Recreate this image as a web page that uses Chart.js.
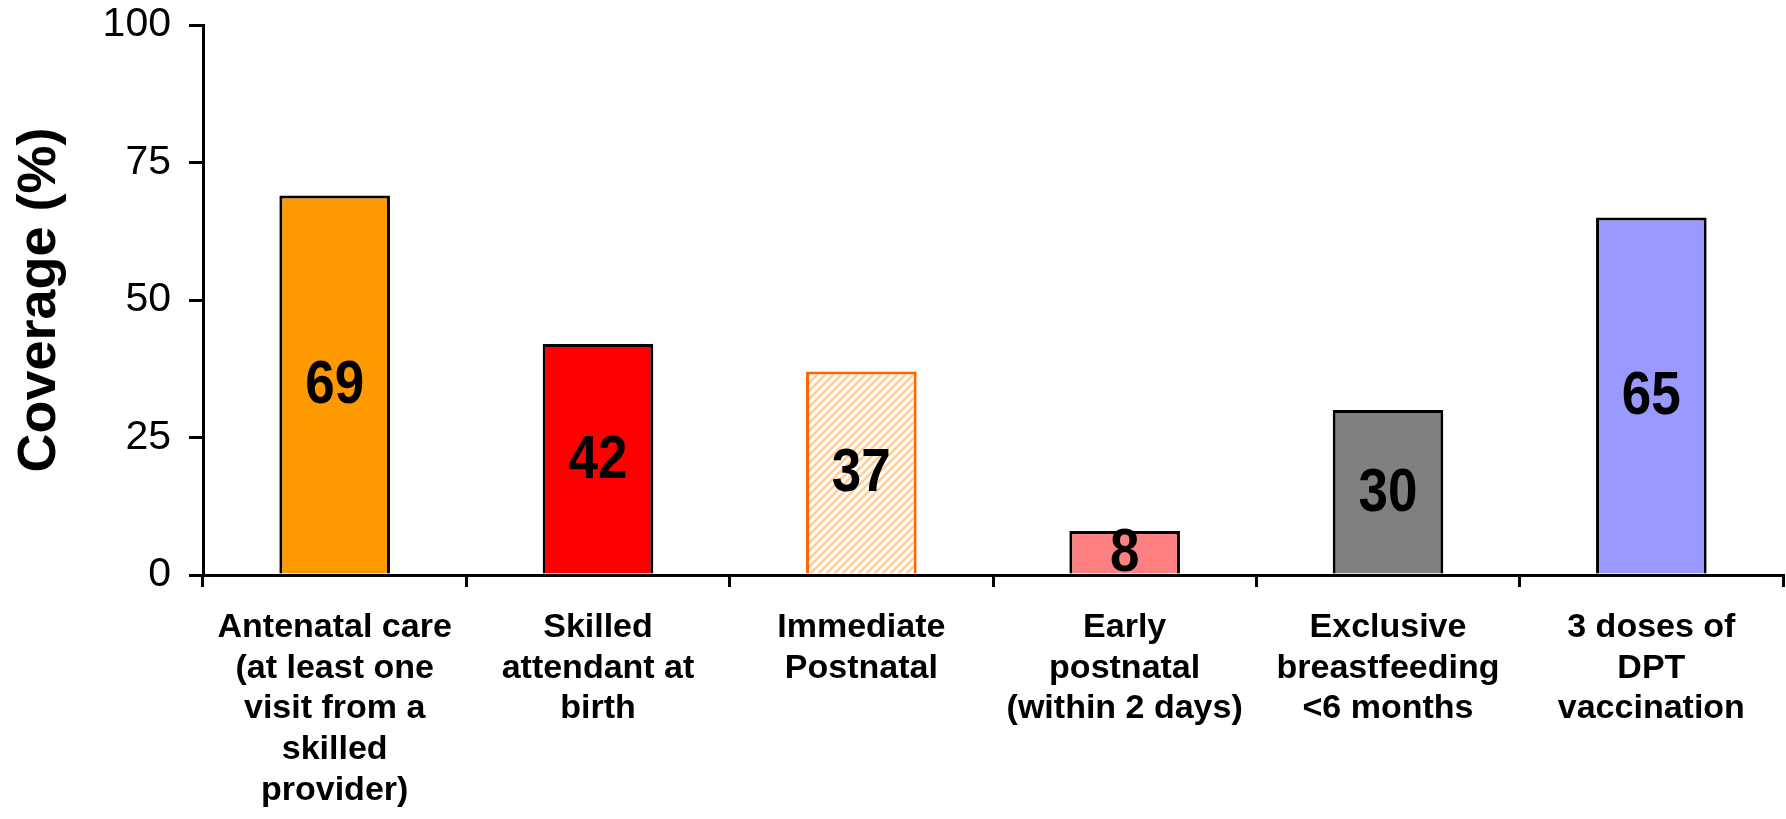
<!DOCTYPE html>
<html>
<head>
    <meta charset="utf-8" />
    <title>Coverage</title>
    <script src="https://cdn.jsdelivr.net/npm/chart.js"></script>
    <style>
        body { margin: 0; background: #fff; }
        #chart { display: block; }
    </style>
</head>
<body>
    <canvas id="chart" width="1786" height="819"></canvas>

    <script>
        // data
        const categories = [
            ['Antenatal care', '(at least one', 'visit from a', 'skilled', 'provider)'],
            ['Skilled', 'attendant at', 'birth'],
            ['Immediate', 'Postnatal'],
            ['Early', 'postnatal', '(within 2 days)'],
            ['Exclusive', 'breastfeeding', '<6 months'],
            ['3 doses of', 'DPT', 'vaccination']
        ];
        const coverage = [69, 42, 37, 8, 30, 65];
        const yTicks = [0, 25, 50, 75, 100];

        // hatch for the "Immediate Postnatal" bar
        function hatch() {
            const c = document.createElement('canvas');
            c.width = 8; c.height = 8;
            const g = c.getContext('2d');
            g.fillStyle = '#ffffff';
            g.fillRect(0, 0, 8, 8);
            g.strokeStyle = '#ffcc99';
            g.lineWidth = 2.5;
            g.beginPath();
            g.moveTo(-2, 10); g.lineTo(10, -2);
            g.moveTo(-2, 2); g.lineTo(2, -2);
            g.moveTo(6, 10); g.lineTo(10, 6);
            g.stroke();
            return document.getElementById('chart').getContext('2d').createPattern(c, 'repeat');
        }

        const fills = ['#ff9900', '#ff0000', hatch(), '#ff8080', '#808080', '#9999ff'];
        const borders = ['#000', '#000', '#ff6600', '#000', '#000', '#000'];

        // value labels in the middle of each bar, a bit stretched like the original
        const barLabels = {
            id: 'barLabels',
            afterDatasetsDraw(chart) {
                const ctx = chart.ctx;
                chart.getDatasetMeta(0).data.forEach((bar, i) => {
                    const mid = (bar.y + bar.base) / 2;
                    ctx.save();
                    ctx.translate(bar.x, mid + 2);
                    ctx.scale(1, 1.15);
                    ctx.font = 'bold 53px "Liberation Sans", Arial, sans-serif';
                    ctx.fillStyle = '#000';
                    ctx.textAlign = 'center';
                    ctx.textBaseline = 'middle';
                    ctx.fillText(coverage[i], 0, 0);
                    ctx.restore();
                });
            }
        };

        const ctx = document.getElementById('chart').getContext('2d');
        const chart = new Chart(ctx, {
            type: 'bar',
            data: {
                labels: categories,
                datasets: [{
                    data: coverage,
                    backgroundColor: fills,
                    borderColor: borders,
                    borderWidth: 3,
                    barPercentage: 0.42,
                    categoryPercentage: 1
                }]
            },
            options: {
                responsive: false,
                animation: false,
                layout: { padding: { top: 25, right: 3, left: 0, bottom: 0 } },
                plugins: {
                    legend: { display: false },
                    tooltip: { enabled: false }
                },
                scales: {
                    x: {
                        afterFit: s => { s.height = 244; },
                        border: { color: '#000', width: 3 },
                        grid: {
                            drawOnChartArea: false,
                            color: '#000',
                            lineWidth: 3,
                            tickLength: 12,
                            offset: true
                        },
                        ticks: {
                            color: '#000',
                            padding: 20,
                            maxRotation: 0,
                            autoSkip: false,
                            font: { family: '"Liberation Sans", Arial, sans-serif', size: 34, weight: 'bold', lineHeight: 1.2 }
                        }
                    },
                    y: {
                        min: 0,
                        max: 100,
                        afterFit: s => { s.width = 203; s.paddingTop = 0; s.paddingBottom = 0; },
                        afterBuildTicks: s => { s.ticks = yTicks.map(v => ({ value: v })); },
                        border: { color: '#000', width: 3 },
                        grid: {
                            drawOnChartArea: false,
                            color: '#000',
                            lineWidth: 3,
                            tickLength: 14
                        },
                        ticks: {
                            color: '#000',
                            padding: 18,
                            font: { family: '"Liberation Sans", Arial, sans-serif', size: 41 }
                        },
                        title: {
                            display: true,
                            text: 'Coverage (%)',
                            color: '#000',
                            padding: { top: 13, bottom: 0 },
                            font: { family: '"Liberation Sans", Arial, sans-serif', size: 54, weight: 'bold', lineHeight: 1 }
                        }
                    }
                }
            },
            plugins: [barLabels]
        });
    </script>
</body>
</html>
